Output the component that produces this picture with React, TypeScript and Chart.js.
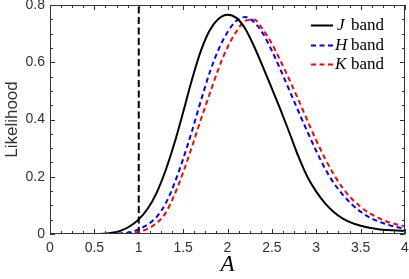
import React, { useEffect, useRef } from "react";
import { Chart, registerables } from "chart.js";

Chart.register(...registerables);

const A_VALUES = [
  0, 0.1, 0.2, 0.3, 0.4, 0.5, 0.6, 0.7, 0.8, 0.9, 1.0, 1.1, 1.2, 1.3, 1.4, 1.5, 1.6, 1.7, 1.8, 1.9, 2.0,
  2.1, 2.2, 2.3, 2.4, 2.5, 2.6, 2.7, 2.8, 2.9, 3.0, 3.1, 3.2, 3.3, 3.4, 3.5, 3.6, 3.7, 3.8, 3.9, 4.0,
];
const J_BAND = [
  0, 0, 0, 0, 0, 0, 0.001, 0.004, 0.012, 0.027, 0.051, 0.088, 0.143, 0.22, 0.315, 0.425, 0.54, 0.64, 0.712, 0.752,
  0.766, 0.755, 0.717, 0.655, 0.583, 0.508, 0.432, 0.352, 0.27, 0.2, 0.148, 0.107, 0.076, 0.054, 0.039, 0.029,
  0.022, 0.017, 0.014, 0.012, 0.011,
];
const H_BAND = [
  0, 0, 0, 0, 0, 0, 0, 0, 0.002, 0.006, 0.016, 0.033, 0.059, 0.105, 0.175, 0.262, 0.36, 0.465, 0.565, 0.645,
  0.705, 0.745, 0.758, 0.74, 0.7, 0.64, 0.572, 0.5, 0.428, 0.358, 0.29, 0.228, 0.177, 0.137, 0.104, 0.078,
  0.058, 0.044, 0.033, 0.025, 0.019,
];
const K_BAND = [
  0, 0, 0, 0, 0, 0, 0, 0, 0.001, 0.003, 0.008, 0.018, 0.038, 0.072, 0.135, 0.215, 0.305, 0.4, 0.49, 0.578,
  0.652, 0.707, 0.745, 0.749, 0.714, 0.665, 0.603, 0.537, 0.468, 0.397, 0.327, 0.263, 0.207, 0.16, 0.123, 0.095,
  0.073, 0.056, 0.043, 0.034, 0.027,
];
const THRESHOLD_A = [1, 1];
const THRESHOLD_L = [0, 0.8];
const SERIES_NAMES = ["J", "H", "K"];
const X_TITLE = "A";
const Y_TITLE = "Likelihood";

const AXIS_COLOR = "#333333";

const pts = (xs: number[], ys: number[]) => xs.map((x, i) => ({ x, y: ys[i] }));
const fmt = (v: any) => String(Number(Number(v).toFixed(2)));

const boxTicksPlugin = {
  id: "boxTicks",
  afterDatasetsDraw(chart: any) {
    const { ctx, chartArea: a, scales } = chart;
    const xs = scales.x;
    const ys = scales.y;
    ctx.save();
    ctx.strokeStyle = AXIS_COLOR;
    ctx.lineWidth = 1;
    ctx.beginPath();
    ctx.rect(a.left + 0.5, a.top + 0.5, a.right - a.left - 1, a.bottom - a.top - 1);
    ctx.stroke();
    ctx.beginPath();
    for (let i = 0; i <= 32; i++) {
      const v = i * 0.125;
      const len = i % 4 === 0 ? 5 : 3;
      const px = Math.round(xs.getPixelForValue(v)) + 0.5;
      ctx.moveTo(px, a.bottom);
      ctx.lineTo(px, a.bottom - len);
      ctx.moveTo(px, a.top);
      ctx.lineTo(px, a.top + len);
    }
    for (let i = 0; i <= 16; i++) {
      const v = i * 0.05;
      const len = i % 4 === 0 ? 5 : 3;
      const py = Math.round(ys.getPixelForValue(v)) + 0.5;
      ctx.moveTo(a.left, py);
      ctx.lineTo(a.left + len, py);
      ctx.moveTo(a.right, py);
      ctx.lineTo(a.right - len, py);
    }
    ctx.stroke();

    // legend
    const rows = [25, 45, 64];
    const ds = chart.data.datasets;
    for (let i = 0; i < 3; i++) {
      const d = ds[i];
      const y = rows[i] + 0.5;
      ctx.save();
      ctx.strokeStyle = d.borderColor;
      ctx.lineWidth = d.borderWidth;
      ctx.setLineDash(d.borderDash || []);
      ctx.beginPath();
      ctx.moveTo(311, y);
      ctx.lineTo(333, y);
      ctx.stroke();
      ctx.restore();
      ctx.fillStyle = "#000";
      ctx.textBaseline = "middle";
      ctx.textAlign = "left";
      ctx.font = 'italic 17px "Liberation Serif"';
      const nx = i === 0 ? 337 : 335;
      ctx.fillText(SERIES_NAMES[i], nx, rows[i] + 1);
      ctx.font = '17px "Liberation Serif"';
      ctx.fillText("band", 351, rows[i] + 1);
    }
    ctx.restore();
  },
};

export default function App() {
  const ref = useRef<HTMLCanvasElement | null>(null);
  useEffect(() => {
    if (!ref.current) return;
    const chart = new Chart(ref.current, {
      type: "line",
      data: {
        datasets: [
          {
            label: "J band",
            data: pts(A_VALUES, J_BAND),
            borderColor: "#000000",
            borderWidth: 2,
            pointRadius: 0,
            cubicInterpolationMode: "monotone",
          },
          {
            label: "H band",
            data: pts(A_VALUES, H_BAND),
            borderColor: "#0000ff",
            borderWidth: 2,
            borderDash: [5, 3.5],
            pointRadius: 0,
            cubicInterpolationMode: "monotone",
          },
          {
            label: "K band",
            data: pts(A_VALUES, K_BAND),
            borderColor: "#ff0000",
            borderWidth: 2,
            borderDash: [5, 3.5],
            pointRadius: 0,
            cubicInterpolationMode: "monotone",
          },
          {
            label: "threshold",
            data: pts(THRESHOLD_A, THRESHOLD_L),
            borderColor: "#000000",
            borderWidth: 2,
            borderDash: [7, 3.5],
            pointRadius: 0,
          },
        ],
      } as any,
      options: {
        animation: false,
        responsive: false,
        devicePixelRatio: 1,
        layout: { padding: { top: 5, right: 4, left: 0, bottom: 0 } },
        plugins: { legend: { display: false }, tooltip: { enabled: false } },
        scales: {
          x: {
            type: "linear",
            min: 0,
            max: 4,
            grid: { display: false, drawTicks: false },
            border: { display: false },
            ticks: {
              stepSize: 0.5,
              padding: 6,
              color: AXIS_COLOR,
              font: { family: '"Liberation Sans"', size: 14 },
              maxRotation: 0,
              callback: (v: any) => fmt(v),
            },
            title: {
              display: true,
              text: X_TITLE,
              color: "#000",
              padding: { top: 0, bottom: 0 },
              font: { family: '"Liberation Serif"', size: 23, style: "italic" },
            },
            afterFit: (s: any) => {
              s.height = 45;
              s.paddingLeft = 0;
              s.paddingRight = 0;
            },
          },
          y: {
            type: "linear",
            min: 0,
            max: 0.8,
            grid: { display: false, drawTicks: false },
            border: { display: false },
            ticks: {
              stepSize: 0.2,
              padding: 5,
              color: AXIS_COLOR,
              font: { family: '"Liberation Sans"', size: 14 },
              callback: (v: any) => fmt(v),
            },
            title: {
              display: true,
              text: Y_TITLE,
              color: AXIS_COLOR,
              padding: { top: 2, bottom: 0 },
              font: { family: '"Liberation Sans"', size: 17 },
            },
            afterFit: (s: any) => {
              s.width = 50;
              s.paddingTop = 0;
              s.paddingBottom = 0;
            },
          },
        },
      } as any,
      plugins: [boxTicksPlugin],
    });
    return () => chart.destroy();
  }, []);
  return (
    <div style={{ position: "absolute", left: 0, top: 0, width: 409, height: 279 }}>
      <canvas ref={ref} width={409} height={279} style={{ width: 409, height: 279 }} />
    </div>
  );
}
